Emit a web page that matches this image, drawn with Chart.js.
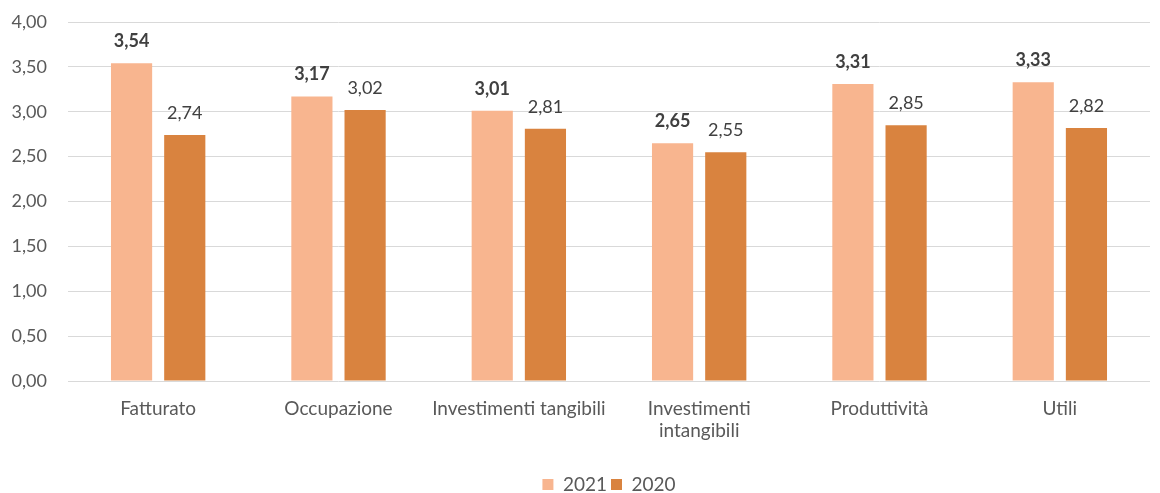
<!DOCTYPE html>
<html>
<head>
<meta charset="utf-8">
<script src="https://cdn.jsdelivr.net/npm/chart.js@4.4.0/dist/chart.umd.min.js"></script>
<style>
  html, body { margin: 0; padding: 0; background: #fff; }
  #wrap { width: 1160px; height: 493px; }
</style>
</head>
<body>
<div id="wrap"><canvas id="c"></canvas></div>
<script>
const categories = ['Fatturato', 'Occupazione', 'Investimenti tangibili', ['Investimenti', 'intangibili'], 'Produttività', 'Utili']
const values2021 = [3.54, 3.17, 3.01, 2.65, 3.31, 3.33]
const values2020 = [2.74, 3.02, 2.81, 2.55, 2.85, 2.82]

const fmt = (v) => v.toFixed(2).replace('.', ',')
const FONT = 'Lato, "Open Sans", sans-serif'

// draws the value above every bar
const barLabels = {
  id: 'barLabels',
  afterDatasetsDraw(chart) {
    const ctx = chart.ctx
    chart.data.datasets.forEach((ds, i) => {
      const meta = chart.getDatasetMeta(i)
      meta.data.forEach((bar, j) => {
        ctx.save()
        ctx.font = (i === 0 ? 'bold ' : '') + '18px ' + FONT
        ctx.fillStyle = '#404040'
        ctx.textAlign = 'center'
        ctx.textBaseline = 'middle'
        ctx.fillText(fmt(ds.data[j]), bar.x, bar.y - 22)
        ctx.restore()
      })
    })
  },
}

new Chart(document.getElementById('c'), {
  type: 'bar',
  data: {
    labels: categories,
    datasets: [
      { label: '2021', data: values2021, backgroundColor: '#F8B58F' },
      { label: '2020', data: values2020, backgroundColor: '#D9833F' },
    ],
  },
  options: {
    responsive: true,
    maintainAspectRatio: false,
    animation: false,
    layout: { padding: { top: 22, right: 10, left: 0, bottom: -11 } },
    datasets: {
      bar: { categoryPercentage: 0.59, barPercentage: 0.774 },
    },
    plugins: {
      tooltip: { enabled: false },
      legend: {
        position: 'bottom',
        fullSize: false,
        labels: {
          boxWidth: 11,
          boxHeight: 11,
          padding: 4,
          color: '#595959',
          font: { family: FONT, size: 19 },
        },
      },
    },
    scales: {
      x: {
        grid: { display: false },
        border: { display: false },
        ticks: { color: '#595959', font: { family: FONT, size: 19, lineHeight: 1.2 }, padding: 8, maxRotation: 0, autoSkip: false },
        afterFit: (s) => { s.height = 90 },
      },
      y: {
        min: 0,
        max: 4,
        border: { display: false },
        grid: { color: '#d9d9d9', lineWidth: 1, drawTicks: true, tickLength: 19, tickColor: 'rgba(0,0,0,0)' },
        ticks: {
          stepSize: 0.5,
          color: '#595959',
          padding: 2,
          font: { family: FONT, size: 18 },
          callback: (v) => fmt(v),
        },
        afterFit: (s) => { s.width = 68 },
      },
    },
  },
  plugins: [barLabels],
})
</script>
</body>
</html>
